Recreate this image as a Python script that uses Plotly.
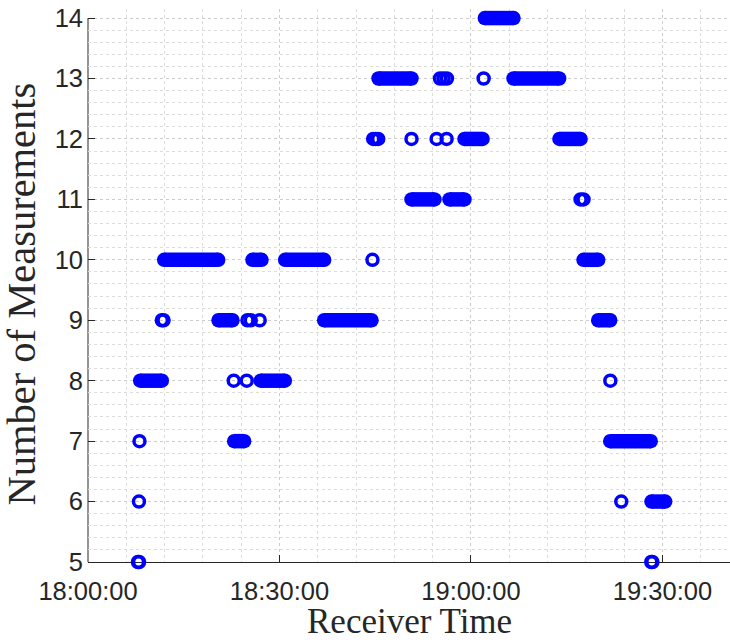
import plotly.graph_objects as go

DAY = "2020-01-01 "

# Continuous runs of epochs (start / end receiver time, number of measurements)
RUN_VALUE = [14, 13, 13, 12, 12, 11, 11, 10, 10, 10, 10, 9, 9, 9, 8, 8, 7, 7, 6]
RUN_START = ["19:02:10", "18:45:31", "19:06:40", "18:58:59", "19:13:52",
             "18:50:41", "18:56:38", "18:11:56", "18:25:46", "18:30:53",
             "19:17:38", "18:20:27", "18:37:00", "19:19:56", "18:08:11",
             "18:27:04", "18:22:54", "19:21:49", "19:28:17"]
RUN_END = ["19:06:40", "18:50:41", "19:13:49", "19:01:49", "19:17:10",
           "18:54:17", "18:58:59", "18:20:24", "18:27:11", "18:37:00",
           "19:19:56", "18:22:38", "18:44:25", "19:21:49", "18:11:34",
           "18:30:50", "18:24:28", "19:28:10", "19:30:26"]

# Isolated epochs
PT_TIME = ["18:55:09", "18:55:42", "18:56:14", "19:01:59",
           "18:44:41", "18:45:05", "18:45:28", "18:50:41", "18:54:37", "18:56:11",
           "19:17:10", "19:17:38",
           "18:44:34",
           "18:11:34", "18:11:50", "18:24:59", "18:25:30", "18:26:54",
           "18:22:50", "18:24:52", "19:21:50",
           "18:08:04",
           "18:07:59", "19:23:33",
           "18:07:50", "18:08:00", "19:28:15", "19:28:25"]
PT_VALUE = [13, 13, 13, 13,
            12, 12, 12, 12, 12, 12,
            11, 11,
            10,
            9, 9, 9, 9, 9,
            8, 8, 8,
            7,
            6, 6,
            5, 5, 5, 5]

X_TICKS = ["18:00:00", "18:30:00", "19:00:00", "19:30:00"]
Y_TICKS = list(range(5, 15))

BLUE = "#0000FF"
INK = "#262626"
GRID_MAJOR = "#cccccc"
GRID_MINOR = "#dcdcdc"

run_x, run_y = [], []
for s, e, v in zip(RUN_START, RUN_END, RUN_VALUE):
    run_x += [DAY + s, DAY + e, None]
    run_y += [v, v, None]

fig = go.Figure()
fig.add_trace(go.Scatter(
    x=run_x, y=run_y, mode="lines+markers",
    line=dict(color=BLUE, width=14.5),
    marker=dict(symbol="circle", size=14.5, color=BLUE, line=dict(width=0)),
    cliponaxis=False, hoverinfo="skip"))
fig.add_trace(go.Scatter(
    x=[DAY + t for t in PT_TIME], y=PT_VALUE, mode="markers",
    marker=dict(symbol="circle-open", size=11, color=BLUE, line=dict(width=3.5, color=BLUE)),
    cliponaxis=False, hoverinfo="skip"))

tickfont = dict(family="Liberation Sans, Arial, sans-serif", size=25.5, color=INK)
titlefont = "Liberation Serif, serif"

fig.update_layout(
    width=730, height=643,
    margin=dict(l=88, r=0, t=9, b=81),
    plot_bgcolor="white", paper_bgcolor="white",
    showlegend=False,
    xaxis=dict(
        type="date",
        automargin=False,
        range=[DAY + "18:00:00", DAY + "19:40:35"],
        tickmode="array",
        tickvals=[DAY + t for t in X_TICKS],
        ticktext=X_TICKS,
        ticks="inside", ticklen=7, tickcolor=INK, tickwidth=1,
        ticklabelstandoff=6,
        showline=True, linecolor=INK, linewidth=1,
        showgrid=True, gridcolor=GRID_MAJOR, griddash="dot", gridwidth=1,
        minor=dict(dtick=360000, tick0=DAY + "18:00:00", showgrid=True,
                   gridcolor=GRID_MINOR, griddash="dot", gridwidth=1, ticks=""),
        tickfont=tickfont,
        zeroline=False,
        layer="below traces",
    ),
    yaxis=dict(
        automargin=False,
        range=[5, 14.15],
        tickmode="array", tickvals=Y_TICKS, ticktext=[str(v) for v in Y_TICKS],
        ticks="inside", ticklen=7, tickcolor=INK, tickwidth=1,
        ticklabelstandoff=4,
        showline=False,
        showgrid=True, gridcolor=GRID_MAJOR, griddash="dot", gridwidth=1,
        minor=dict(dtick=0.2, tick0=5, showgrid=True,
                   gridcolor=GRID_MINOR, griddash="dot", gridwidth=1, ticks=""),
        tickfont=tickfont,
        zeroline=False,
        layer="below traces",
    ),
    annotations=[
        dict(text="Receiver Time", xref="paper", yref="paper",
             x=0.5, y=-0.1076, xanchor="center", yanchor="middle",
             showarrow=False, font=dict(family=titlefont, size=35, color=INK)),
        dict(text="Number of Measurements", xref="paper", yref="paper",
             x=-0.1028, y=0.4837, xanchor="center", yanchor="middle", textangle=-90,
             showarrow=False, font=dict(family=titlefont, size=40.5, color=INK)),
    ],
    shapes=[
        dict(type="rect", xref="paper", yref="y", x0=0, x1=1, y0=14.02, y1=14.15,
             fillcolor="white", line=dict(width=0), layer="between"),
        dict(type="line", xref="paper", yref="y", x0=0, x1=0, y0=5, y1=14,
             line=dict(color=INK, width=1), layer="between"),
    ],
)

fig.write_html("out.html", config={"displayModeBar": False},
               post_script="document.body.style.margin='0';")
